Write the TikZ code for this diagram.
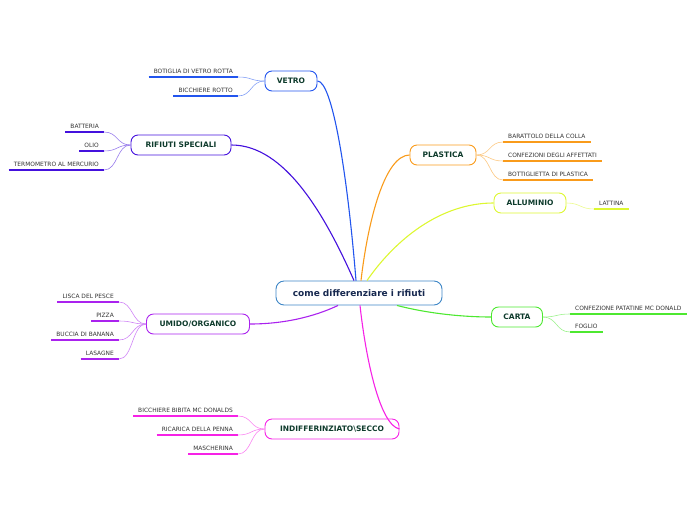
\documentclass[tikz,border=0pt]{standalone}
\usepackage{fontspec}
\setmainfont{DejaVu Sans}
\usetikzlibrary{positioning}
\definecolor{rootc}{HTML}{3D86C6}
\definecolor{roottxt}{HTML}{16284F}
\definecolor{toptxt}{HTML}{0E3B2C}
\definecolor{leaftxt}{HTML}{333333}
\definecolor{cvetro}{HTML}{2255EE}
\definecolor{cspec}{HTML}{4411DD}
\definecolor{cplast}{HTML}{F99B1B}
\definecolor{call}{HTML}{DDF731}
\definecolor{ccarta}{HTML}{4DE830}
\definecolor{cumido}{HTML}{AA22EE}
\definecolor{cindiff}{HTML}{F622E6}

\tikzset{
  root/.style={draw=rootc,line width=0.9pt,rounded corners=8pt,minimum height=24pt,
    font=\fontsize{9}{10}\selectfont\bfseries,text=roottxt},
  topic/.style={draw=#1,line width=0.9pt,rounded corners=7pt,minimum height=20pt,
    font=\fontsize{7.5}{8}\selectfont\bfseries,text=toptxt},
  leaf/.style={font=\fontsize{5.9}{7}\selectfont,text=leaftxt,inner xsep=5pt,inner ysep=3.5pt},
  uline/.style={draw=#1,line width=1.6pt},
  twig/.style={draw=#1!55,line width=0.6pt},
  branch/.style={draw=#1,line width=1.1pt},
}

\begin{document}
\begin{tikzpicture}[x=1pt,y=-1pt]
  \useasboundingbox (0,0) rectangle (696,520);

  % centre and main topics
  \node[root,minimum width=166pt] (root) at (359,293) {come differenziare i rifiuti};
  \node[topic=cvetro,minimum width=52pt] (vetro) at (291,81) {VETRO};
  \node[topic=cspec,minimum width=100pt] (spec) at (181,145) {RIFIUTI SPECIALI};
  \node[topic=cplast,minimum width=66pt] (plast) at (443,155) {PLASTICA};
  \node[topic=call,minimum width=72pt] (allu) at (530,203) {ALLUMINIO};
  \node[topic=ccarta,minimum width=51pt] (carta) at (517,317) {CARTA};
  \node[topic=cumido,minimum width=103pt] (umido) at (198,324) {UMIDO/ORGANICO};
  \node[topic=cindiff,minimum width=134pt] (indiff) at (332,429) {INDIFFERINZIATO\textbackslash SECCO};

  % branches from the centre
  \draw[branch=cvetro] (vetro.east) .. controls (332,81) and (347,170) .. ([xshift=-3pt]root.north);
  \draw[branch=cspec] (spec.east) .. controls (285,145) and (325,215) .. ([xshift=-5pt]root.north);
  \draw[branch=cplast] (plast.west) .. controls (385,155) and (368,220) .. ([xshift=2pt]root.north);
  \draw[branch=call] (allu.west) .. controls (440,203) and (395,240) .. ([xshift=8pt]root.north);
  \draw[branch=ccarta] (carta.west) .. controls (465,317) and (430,314) .. ([xshift=38pt]root.south);
  \draw[branch=cumido] (umido.east) .. controls (290,324) and (320,314) .. ([xshift=-21pt]root.south);
  \draw[branch=cindiff] (indiff.east) .. controls (380,425) and (366,360) .. ([xshift=1pt]root.south);

  % leaves, left side
  \foreach \n/\y/\t in {1/77/BOTIGLIA DI VETRO ROTTA,2/96/BICCHIERE ROTTO}{
    \node[leaf,anchor=south east] (vetro\n) at (238,\y) {\t};
    \draw[uline=cvetro] (vetro\n.south west) -- (vetro\n.south east);
    \draw[twig=cvetro] (vetro.west) .. controls +(-14,0) and +(14,0) .. (vetro\n.south east);
  }
  \foreach \n/\y/\t in {1/132/BATTERIA,2/151/OLIO,3/170/TERMOMETRO AL MERCURIO}{
    \node[leaf,anchor=south east] (spec\n) at (104,\y) {\t};
    \draw[uline=cspec] (spec\n.south west) -- (spec\n.south east);
    \draw[twig=cspec] (spec.west) .. controls +(-14,0) and +(14,0) .. (spec\n.south east);
  }
  \foreach \n/\y/\t in {1/302/LISCA DEL PESCE,2/321/PIZZA,3/340/BUCCIA DI BANANA,4/359/LASAGNE}{
    \node[leaf,anchor=south east] (umido\n) at (119,\y) {\t};
    \draw[uline=cumido] (umido\n.south west) -- (umido\n.south east);
    \draw[twig=cumido] (umido.west) .. controls +(-14,0) and +(14,0) .. (umido\n.south east);
  }
  \foreach \n/\y/\t in {1/416/BICCHIERE BIBITA MC DONALDS,2/435/RICARICA DELLA PENNA,3/454/MASCHERINA}{
    \node[leaf,anchor=south east] (indiff\n) at (238,\y) {\t};
    \draw[uline=cindiff] (indiff\n.south west) -- (indiff\n.south east);
    \draw[twig=cindiff] (indiff.west) .. controls +(-14,0) and +(14,0) .. (indiff\n.south east);
  }

  % leaves, right side
  \foreach \n/\y/\t in {1/142/BARATTOLO DELLA COLLA,2/161/CONFEZIONI DEGLI AFFETTATI,3/180/BOTTIGLIETTA DI PLASTICA}{
    \node[leaf,anchor=south west] (plast\n) at (503,\y) {\t};
    \draw[uline=cplast] (plast\n.south west) -- (plast\n.south east);
    \draw[twig=cplast] (plast.east) .. controls +(14,0) and +(-14,0) .. (plast\n.south west);
  }
  \node[leaf,anchor=south west] (allu1) at (594,209) {LATTINA};
  \draw[uline=call] (allu1.south west) -- (allu1.south east);
  \draw[twig=call] (allu.east) .. controls +(14,0) and +(-14,0) .. (allu1.south west);
  \foreach \n/\y/\t in {1/314/CONFEZIONE PATATINE MC DONALD,2/332/FOGLIO}{
    \node[leaf,anchor=south west] (carta\n) at (570,\y) {\t};
    \draw[uline=ccarta] (carta\n.south west) -- (carta\n.south east);
    \draw[twig=ccarta] (carta.east) .. controls +(14,0) and +(-14,0) .. (carta\n.south west);
  }
\end{tikzpicture}
\end{document}
